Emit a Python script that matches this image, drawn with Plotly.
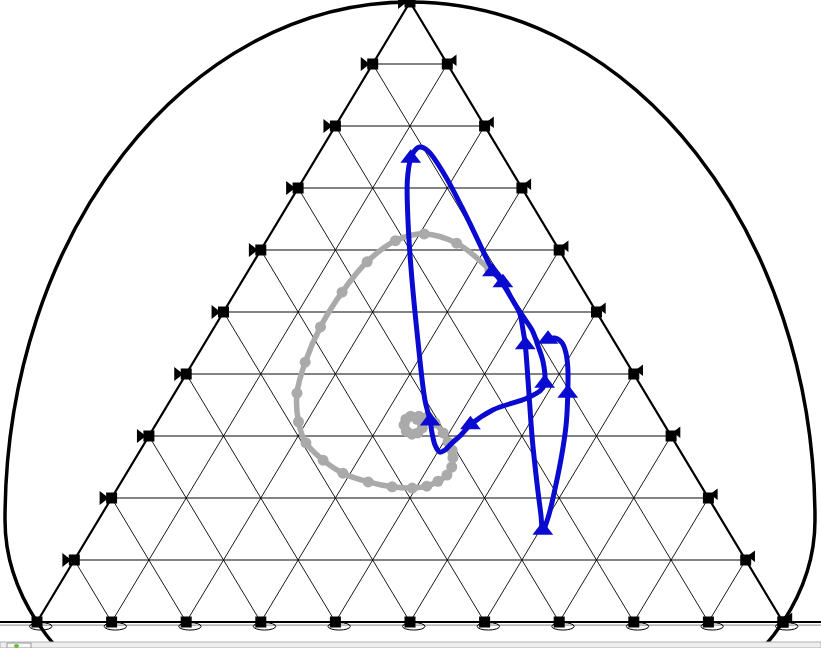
import plotly.graph_objects as go

# Ternary compositions in percent: a = top vertex, c = bottom-right vertex, b = 100 - a - c
blue_a = [56.5, 54.7, 51.9, 49.2, 47.1, 44.4, 41.9, 38.5, 37.3, 36.1, 34.2, 31.8, 30.0, 28.9,
          27.7, 27.4, 28.4, 30.5, 32.4, 35.8, 45.5, 57.6, 65.6, 71.3, 74.8, 76.0, 76.6, 76.0,
          72.1, 66.9, 61.6, 57.6, 54.4, 51.6, 49.8, 47.1, 44.7, 38.5, 29.4, 22.1, 17.3, 14.8,
          16.8, 21.8, 27.7, 32.1, 36.9, 41.1, 43.4, 45.0, 45.8, 45.6]
blue_c = [32.8, 35.1, 37.8, 40.6, 42.8, 45.0, 46.9, 48.8, 48.8, 47.6, 44.0, 42.2, 41.7, 41.2,
          40.8, 40.3, 39.2, 37.7, 36.5, 34.1, 28.3, 21.3, 16.9, 14.0, 12.7, 12.6, 13.0, 14.4,
          18.6, 23.5, 28.3, 31.9, 35.3, 38.1, 39.8, 41.6, 43.1, 46.6, 51.7, 56.0, 58.9, 60.4,
          60.1, 58.6, 56.6, 54.9, 52.7, 50.6, 49.2, 47.9, 46.5, 45.7]
blue_sample_idx = [0, 1, 7, 11, 18, 24, 36, 41, 46, 51]

gray_a = [56.8, 61.1, 62.6, 61.5, 58.1, 53.2, 47.6, 41.9, 36.9, 32.3, 28.9, 26.1, 24.0, 22.6,
          21.8, 21.6, 21.9, 22.7, 23.7, 25.0, 26.5, 27.7, 29.0, 30.5,
          32.1, 33.1, 33.2, 33.2, 32.7, 31.8, 30.8, 30.3, 30.5, 31.3, 32.4, 32.7]
gray_c = [32.3, 25.7, 20.6, 17.3, 15.2, 14.3, 14.2, 15.0, 16.4, 18.9, 21.6, 25.3, 29.0, 33.1,
          36.7, 39.5, 41.3, 42.4, 43.1, 43.1, 42.5, 41.8, 40.6, 39.2,
          37.3, 35.8, 34.6, 33.5, 33.1, 33.3, 34.1, 35.1, 35.8, 36.0, 35.3, 34.6]

grid_ticks = [0, 10, 20, 30, 40, 50, 60, 70, 80, 90, 100]


def to_xy(a_vals, c_vals):
    xs = [c + a / 2 for a, c in zip(a_vals, c_vals)]
    return xs, list(a_vals)


fig = go.Figure()

# Outer egg-shaped arch (two half-ellipses joined at the widest level)
X0, YC, A, BU, BL = 50.0, 16.45, 54.29, 83.55, 42.1
K = 0.5523
arch = (f"M {X0 - A},{YC} "
        f"C {X0 - A},{YC + K * BU} {X0 - K * A},{YC + BU} {X0},{YC + BU} "
        f"C {X0 + K * A},{YC + BU} {X0 + A},{YC + K * BU} {X0 + A},{YC} "
        f"C {X0 + A},{YC - K * BL} {X0 + K * A},{YC - BL} {X0},{YC - BL} "
        f"C {X0 - K * A},{YC - BL} {X0 - A},{YC - K * BL} {X0 - A},{YC} Z")
fig.add_shape(type="path", path=arch, xref="x", yref="y",
              line=dict(color="black", width=3.5), layer="below")

# Grid: horizontal lines (constant a)
hx, hy = [], []
for t in grid_ticks[1:-1]:
    hx += [t / 2, 100 - t / 2, None]
    hy += [t, t, None]
fig.add_trace(go.Scatter(x=hx, y=hy, mode="lines", line=dict(color="#5a5a5a", width=1.4),
                         hoverinfo="skip"))

# Grid: diagonals
dx, dy = [], []
for t in grid_ticks[1:-1]:
    dx += [t, t + (100 - t) / 2, None]
    dy += [0, 100 - t, None]
    dx += [t, t / 2, None]
    dy += [0, t, None]
fig.add_trace(go.Scatter(x=dx, y=dy, mode="lines", line=dict(color="black", width=0.9),
                         hoverinfo="skip"))

# Baseline extending across the width
fig.add_trace(go.Scatter(x=[-6, 106], y=[-0.5, -0.5], mode="lines",
                         line=dict(color="#888888", width=1), hoverinfo="skip"))
fig.add_trace(go.Scatter(x=[-6, 106], y=[0, 0], mode="lines",
                         line=dict(color="black", width=2.2), hoverinfo="skip"))

# Triangle edges
fig.add_trace(go.Scatter(x=[0, 50, 100], y=[0, 100, 0], mode="lines",
                         line=dict(color="black", width=2.2), hoverinfo="skip"))

# Tick glyphs
left_x = [t / 2 for t in grid_ticks[1:]]
left_y = grid_ticks[1:]
right_x = [100 - t / 2 for t in grid_ticks[:-1]]
right_y = grid_ticks[:-1]
bot_x = grid_ticks
bot_y = [0] * len(grid_ticks)

for t in grid_ticks:
    fig.add_shape(type="circle", xref="x", yref="y", x0=t - 1.0, x1=t + 2.0, y0=-1.3, y1=-0.1,
                  line=dict(color="black", width=1))

fig.add_trace(go.Scatter(x=[v - 1.2 for v in left_x], y=left_y, mode="markers",
                         marker=dict(symbol="triangle-right", size=12, color="black"),
                         hoverinfo="skip"))
fig.add_trace(go.Scatter(x=[v + 0.9 for v in right_x], y=[v + 0.6 for v in right_y], mode="markers",
                         marker=dict(symbol="triangle-left", size=10, color="black"),
                         hoverinfo="skip"))
fig.add_trace(go.Scatter(x=left_x + right_x + bot_x, y=left_y + right_y + bot_y, mode="markers",
                         marker=dict(symbol="square", size=11, color="black"),
                         hoverinfo="skip"))

# Gray spiral
gx, gy = to_xy(gray_a, gray_c)
fig.add_trace(go.Scatter(x=gx, y=gy, mode="lines+markers",
                         line=dict(color="#aaaaaa", width=5.5, shape="spline"),
                         marker=dict(color="#aaaaaa", size=11), hoverinfo="skip"))

# Blue trajectory
bx, by = to_xy(blue_a, blue_c)
fig.add_trace(go.Scatter(x=bx, y=by, mode="lines",
                         line=dict(color="#0a0ad0", width=5, shape="spline"), hoverinfo="skip"))
fig.add_trace(go.Scatter(x=[bx[i] for i in blue_sample_idx], y=[by[i] for i in blue_sample_idx],
                         mode="markers",
                         marker=dict(symbol="triangle-up", size=18, color="#0a0ad0"),
                         hoverinfo="skip"))

# Bottom strip
fig.add_shape(type="rect", xref="paper", yref="paper", x0=0, x1=1, y0=0, y1=6 / 648,
              fillcolor="#eeeeee", line=dict(color="#b0b0b0", width=1))
fig.add_shape(type="rect", xref="paper", yref="paper", x0=7 / 821, x1=31 / 821, y0=0, y1=5 / 648,
              fillcolor="#f8f8f8", line=dict(color="#999999", width=1))
fig.add_shape(type="circle", xref="paper", yref="paper", x0=14 / 821, x1=19 / 821, y0=0, y1=4 / 648,
              fillcolor="#66bb33", line=dict(width=0))

fig.update_layout(
    width=821, height=648,
    margin=dict(l=0, r=0, t=0, b=0),
    paper_bgcolor="white", plot_bgcolor="white",
    showlegend=False,
    xaxis=dict(range=[-4.960, 105.094], visible=False, fixedrange=True),
    yaxis=dict(range=[-4.1935, 100.3226], visible=False, fixedrange=True),
)

fig.write_html("out.html", config={"displayModeBar": False},
               post_script="document.body.style.margin='0px';")
